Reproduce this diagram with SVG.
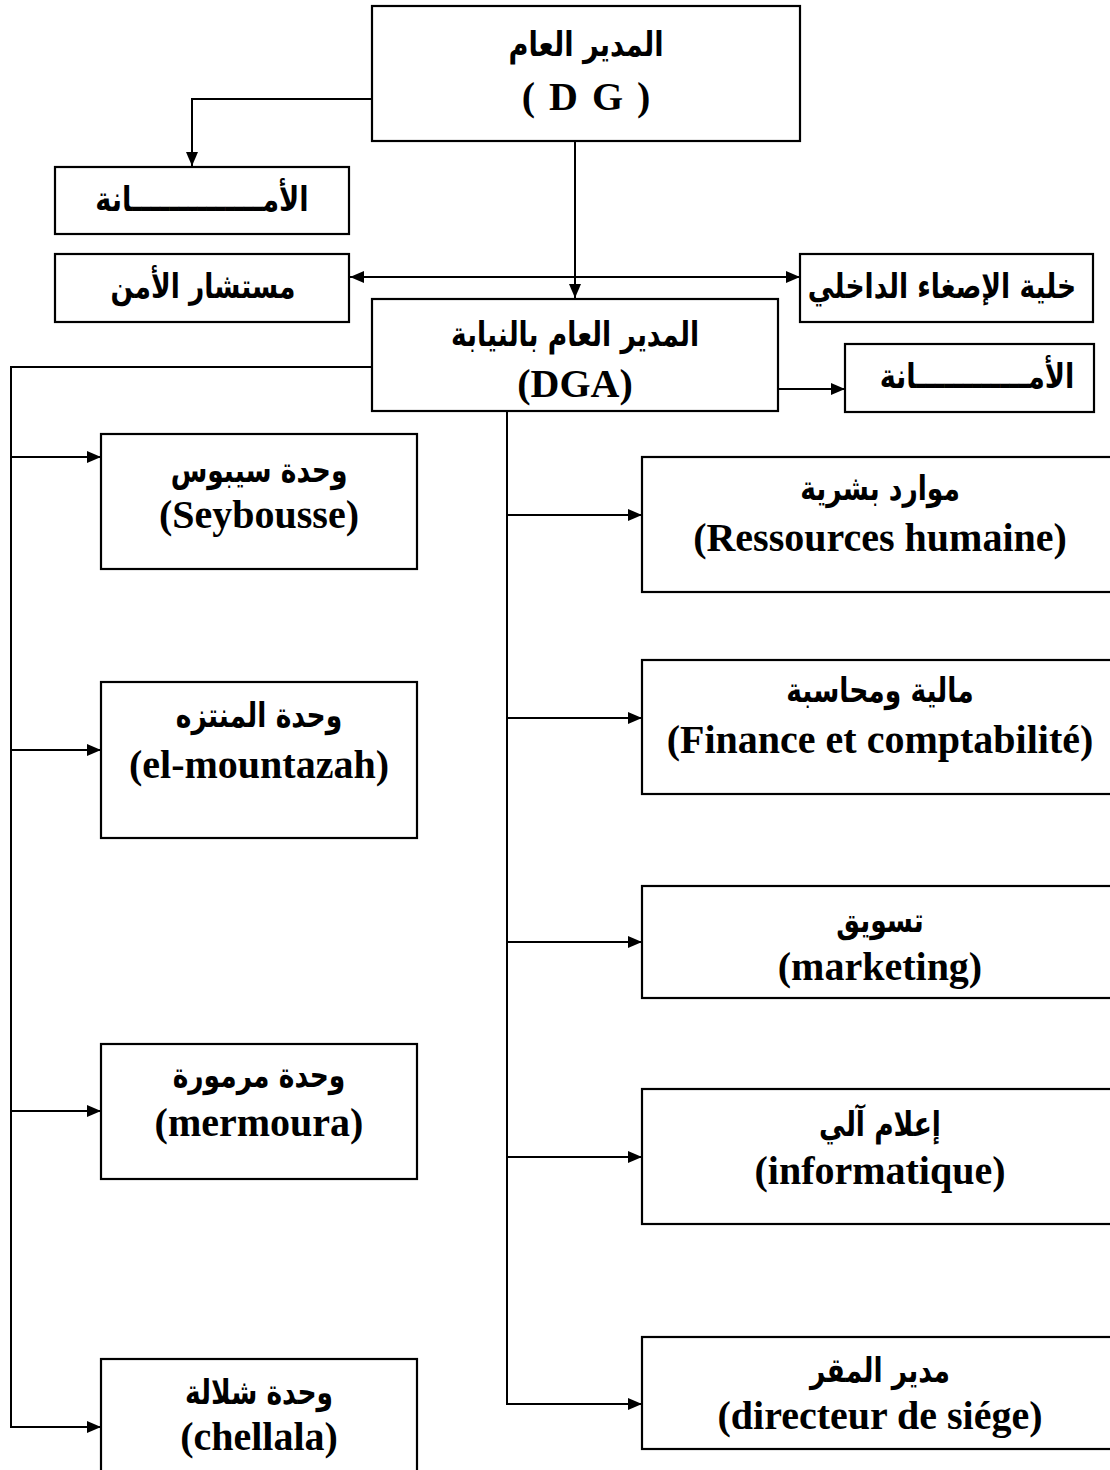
<svg xmlns="http://www.w3.org/2000/svg" width="1110" height="1470" viewBox="0 0 1110 1470">
  <defs>
    <marker id="arrow" viewBox="0 0 14 12" refX="14" refY="6" markerWidth="14" markerHeight="12" markerUnits="userSpaceOnUse" orient="auto-start-reverse">
      <path d="M0,0 L14,6 L0,12 Z" fill="#000"/>
    </marker>
    <style>
      .box { fill: #fff; stroke: #000; stroke-width: 2.2; }
      .line { fill: none; stroke: #000; stroke-width: 2; }
      .ar { font-family: "DejaVu Sans", "Noto Sans", sans-serif; font-weight: bold; font-size: 34px; text-anchor: middle; direction: rtl; unicode-bidi: embed; }
      .la { font-family: "Liberation Serif", "Times New Roman", serif; font-weight: bold; font-size: 40px; text-anchor: middle; }
    </style>
  </defs>
  <rect width="1110" height="1470" fill="#fff"/>

  <!-- connectors -->
  <g id="connectors">
    <path class="line" d="M372,99 H192 V166" marker-end="url(#arrow)"/>
    <path class="line" d="M575,141 V298" marker-end="url(#arrow)"/>
    <path class="line" d="M350,277 H800" marker-start="url(#arrow)" marker-end="url(#arrow)"/>
    <path class="line" d="M778,389 H845" marker-end="url(#arrow)"/>
    <!-- left trunk to the units -->
    <path class="line" d="M372,367 H11 V1427 H101" marker-end="url(#arrow)"/>
    <path class="line" d="M11,457 H101" marker-end="url(#arrow)"/>
    <path class="line" d="M11,750 H101" marker-end="url(#arrow)"/>
    <path class="line" d="M11,1111 H101" marker-end="url(#arrow)"/>
    <!-- central trunk to the departments -->
    <path class="line" d="M507,411 V1404 H642" marker-end="url(#arrow)"/>
    <path class="line" d="M507,515 H642" marker-end="url(#arrow)"/>
    <path class="line" d="M507,718 H642" marker-end="url(#arrow)"/>
    <path class="line" d="M507,942 H642" marker-end="url(#arrow)"/>
    <path class="line" d="M507,1157 H642" marker-end="url(#arrow)"/>
  </g>

  <g id="dg">
    <rect class="box" x="372" y="6" width="428" height="135"/>
    <text class="ar" transform="translate(586,56) scale(0.8,1)">المدير العام</text>
    <text class="la" x="586" y="110" word-spacing="4">( D G )</text>
  </g>

  <g id="secretariat-dg">
    <rect class="box" x="55" y="167" width="294" height="67"/>
    <text class="ar" transform="translate(202,211) scale(0.8,1)">الأمــــــــــــــانة</text>
  </g>

  <g id="security-advisor">
    <rect class="box" x="55" y="254" width="294" height="68"/>
    <text class="ar" transform="translate(203,298) scale(0.78,1)">مستشار الأمن</text>
  </g>

  <g id="listening-cell">
    <rect class="box" x="800" y="254" width="293" height="68"/>
    <text class="ar" transform="translate(942,298) scale(0.78,1)">خلية الإصغاء الداخلي</text>
  </g>

  <g id="dga">
    <rect class="box" x="372" y="299" width="406" height="112"/>
    <text class="ar" transform="translate(575,346) scale(0.78,1)">المدير العام بالنيابة</text>
    <text class="la" x="575" y="397">(DGA)</text>
  </g>

  <g id="secretariat-dga">
    <rect class="box" x="845" y="344" width="249" height="68"/>
    <text class="ar" transform="translate(977,388) scale(0.8,1)">الأمــــــــــــانة</text>
  </g>

  <g id="unit-seybousse">
    <rect class="box" x="101" y="434" width="316" height="135"/>
    <text class="ar" transform="translate(259,482) scale(0.78,1)">وحدة سيبوس</text>
    <text class="la" x="259" y="528">(Seybousse)</text>
  </g>

  <g id="unit-mountazah">
    <rect class="box" x="101" y="682" width="316" height="156"/>
    <text class="ar" transform="translate(259,727) scale(0.78,1)">وحدة المنتزه</text>
    <text class="la" x="259" y="778">(el-mountazah)</text>
  </g>

  <g id="unit-mermoura">
    <rect class="box" x="101" y="1044" width="316" height="135"/>
    <text class="ar" transform="translate(259,1087) scale(0.78,1)">وحدة مرمورة</text>
    <text class="la" x="259" y="1136">(mermoura)</text>
  </g>

  <g id="unit-chellala">
    <rect class="box" x="101" y="1359" width="316" height="125"/>
    <text class="ar" transform="translate(259,1404) scale(0.78,1)">وحدة شلالة</text>
    <text class="la" x="259" y="1450">(chellala)</text>
  </g>

  <g id="hr">
    <rect class="box" x="642" y="457" width="480" height="135"/>
    <text class="ar" transform="translate(880,500) scale(0.78,1)">موارد بشرية</text>
    <text class="la" x="880" y="551">(Ressources humaine)</text>
  </g>

  <g id="finance">
    <rect class="box" x="642" y="660" width="480" height="134"/>
    <text class="ar" transform="translate(880,702) scale(0.78,1)">مالية ومحاسبة</text>
    <text class="la" x="880" y="753">(Finance et comptabilité)</text>
  </g>

  <g id="marketing">
    <rect class="box" x="642" y="886" width="480" height="112"/>
    <text class="ar" transform="translate(880,932) scale(0.78,1)">تسويق</text>
    <text class="la" x="880" y="980">(marketing)</text>
  </g>

  <g id="it">
    <rect class="box" x="642" y="1089" width="480" height="135"/>
    <text class="ar" transform="translate(880,1136) scale(0.78,1)">إعلام آلي</text>
    <text class="la" x="880" y="1184">(informatique)</text>
  </g>

  <g id="head-office">
    <rect class="box" x="642" y="1337" width="480" height="112"/>
    <text class="ar" transform="translate(880,1382) scale(0.78,1)">مدير المقر</text>
    <text class="la" x="880" y="1429">(directeur de siége)</text>
  </g>
</svg>
